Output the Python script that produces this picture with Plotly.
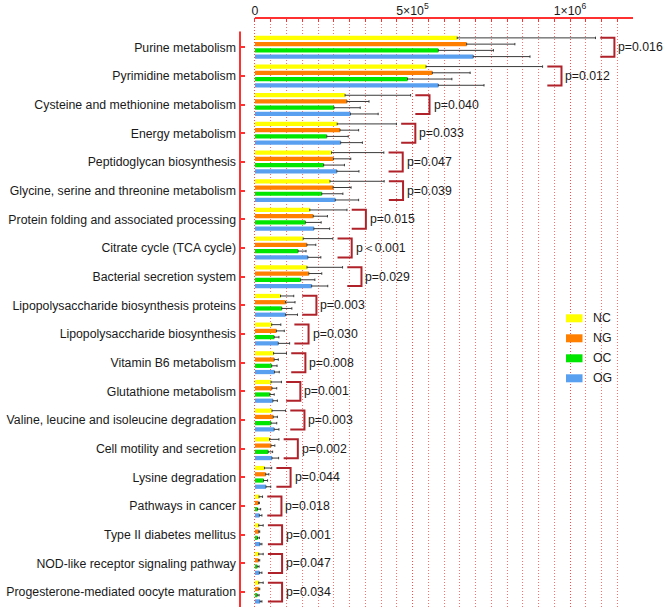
import plotly.graph_objects as go

categories = [
    "Purine metabolism",
    "Pyrimidine metabolism",
    "Cysteine and methionine metabolism",
    "Energy metabolism",
    "Peptidoglycan biosynthesis",
    "Glycine, serine and threonine metabolism",
    "Protein folding and associated processing",
    "Citrate cycle (TCA cycle)",
    "Bacterial secretion system",
    "Lipopolysaccharide biosynthesis proteins",
    "Lipopolysaccharide biosynthesis",
    "Vitamin B6 metabolism",
    "Glutathione metabolism",
    "Valine, leucine and isoleucine degradation",
    "Cell motility and secretion",
    "Lysine degradation",
    "Pathways in cancer",
    "Type II diabetes mellitus",
    "NOD-like receptor signaling pathway",
    "Progesterone-mediated oocyte maturation",
]

series_names = ["NC", "NG", "OC", "OG"]
series_colors = ["#FFFF00", "#FF8000", "#00E600", "#5AA0F0"]

NC = [642000, 543000, 286000, 261000, 243000, 238000, 174000, 153000, 165000, 81000,
      53000, 59000, 51000, 54000, 46000, 30000, 13000, 12000, 12000, 12000]
NC_err = [439000, 370000, 208000, 188000, 166000, 172000, 118000, 94000, 113000, 42000,
          29000, 41000, 33000, 43000, 30000, 23000, 11000, 14000, 14000, 14000]
NG = [672000, 563000, 292000, 270000, 249000, 248000, 185000, 165000, 171000, 97000,
      68000, 61000, 54000, 58000, 51000, 34000, 11000, 12000, 11000, 12000]
NG_err = [153000, 120000, 70000, 59000, 55000, 57000, 45000, 28000, 41000, 30000,
          25000, 13000, 15000, 13000, 12000, 10000, 3000, 3000, 4000, 3000]
OC = [582000, 484000, 251000, 228000, 218000, 212000, 160000, 137000, 145000, 85000,
      61000, 53000, 47000, 51000, 42000, 27000, 8000, 8000, 7000, 7000]
OC_err = [175000, 141000, 83000, 68000, 66000, 67000, 50000, 25000, 45000, 32000,
          15000, 17000, 14000, 18000, 14000, 13000, 10000, 6000, 6000, 6000]
OG = [693000, 582000, 303000, 272000, 260000, 255000, 187000, 168000, 180000, 97000,
      74000, 62000, 57000, 61000, 54000, 35000, 14000, 16000, 14000, 16000]
OG_err = [180000, 145000, 88000, 69000, 70000, 74000, 50000, 41000, 51000, 38000,
          36000, 15000, 14000, 15000, 21000, 15000, 8000, 6000, 8000, 6000]

p_values = ["p=0.016", "p=0.012", "p=0.040", "p=0.033", "p=0.047", "p=0.039",
            "p=0.015", "p\uff1c0.001", "p=0.029", "p=0.003", "p=0.030", "p=0.008",
            "p=0.001", "p=0.003", "p=0.002", "p=0.044", "p=0.018", "p=0.001",
            "p=0.047", "p=0.034"]

x_tick_vals = [0, 500000, 1000000]
x_tick_text = ["0", "5\u00d710<sup>5</sup>", "1\u00d710<sup>6</sup>"]
x_minor_step = 50000

values = [NC, NG, OC, OG]
errors = [NC_err, NG_err, OC_err, OG_err]

FONT = "Liberation Sans, Arial, sans-serif"
FS = 12.3
RED = "#FF3030"
GRID = "rgba(255,60,60,0.75)"
BRACKET = "#B0222A"

W, H = 667, 611
L, R, T, B = 240, 34, 18, 4
XMIN, XMAX = -47600, 1200000
YTOP, YBOT = -1.02, 19.52

fig = go.Figure()
for name, col, v, e in zip(series_names, series_colors, values, errors):
    fig.add_trace(go.Bar(
        name=name, y=categories, x=v, orientation="h",
        marker=dict(color=col, line=dict(width=0)),
        error_x=dict(type="data", symmetric=False, array=e, arrayminus=[0] * len(e),
                     color="#3a3a3a", thickness=1, width=1.2),
        showlegend=False,
    ))

shapes = []
annotations = []

# axis lines
shapes.append(dict(type="line", xref="x", yref="paper", x0=0, x1=XMAX, y0=1, y1=1,
                   line=dict(color=RED, width=2)))
shapes.append(dict(type="line", xref="paper", yref="y", x0=0, x1=0, y0=-0.55, y1=YBOT,
                   line=dict(color=RED, width=2)))

# significance brackets
for i, cat in enumerate(categories):
    top = max(values[k][i] + errors[k][i] for k in range(4))
    x0 = top + 15000
    x1 = x0 + 45000
    y0 = i - 0.33
    y1 = i + 0.33
    shapes.append(dict(type="path", xref="x", yref="y",
                       path=f"M{x0},{y0} L{x1},{y0} L{x1},{y1} L{x0},{y1}",
                       line=dict(color=BRACKET, width=2)))
    annotations.append(dict(x=x1, y=i, xref="x", yref="y", text=p_values[i],
                            showarrow=False, xanchor="left", yanchor="middle",
                            xshift=2, font=dict(family=FONT, size=FS, color="#1a1a1a")))

# manual legend (positions given in page pixels)
pw, ph = W - L - R, H - T - B
def px(xp):
    return (xp - L) / pw
def py(yp):
    return 1 - (yp - T) / ph

for k, (name, col) in enumerate(zip(series_names, series_colors)):
    cy = 318.3 + 20 * k
    shapes.append(dict(type="rect", xref="paper", yref="paper",
                       x0=px(566), x1=px(582.5), y0=py(cy + 4), y1=py(cy - 4),
                       fillcolor=col, line=dict(width=0)))
    annotations.append(dict(x=px(591), y=py(cy), xref="paper", yref="paper",
                            text=name, showarrow=False, xanchor="left", yanchor="middle",
                            font=dict(family=FONT, size=FS, color="#1a1a1a")))

fig.update_layout(
    width=W, height=H,
    margin=dict(l=L, r=R, t=T, b=B, pad=0, autoexpand=False),
    paper_bgcolor="white", plot_bgcolor="white",
    barmode="group", bargap=0.13, bargroupgap=0.32,
    font=dict(family=FONT, size=FS, color="#1a1a1a"),
    shapes=shapes, annotations=annotations,
    showlegend=False,
    xaxis=dict(
        side="top", range=[XMIN, XMAX], showline=False, zeroline=False,
        automargin=False,
        tickmode="array", tickvals=x_tick_vals, ticktext=x_tick_text,
        ticks="inside", ticklen=4, tickwidth=1, tickcolor=RED,
        showgrid=True, gridcolor=GRID, griddash="1px,2px", gridwidth=1,
        minor=dict(tickmode="linear", tick0=0, dtick=x_minor_step,
                   ticks="inside", ticklen=4, tickwidth=1, tickcolor=RED,
                   showgrid=True, gridcolor=GRID, griddash="1px,2px", gridwidth=1),
        tickfont=dict(family=FONT, size=FS, color="#1a1a1a"),
    ),
    yaxis=dict(
        type="category", categoryorder="array", categoryarray=categories,
        automargin=False,
        range=[YBOT, YTOP], showline=False, zeroline=False, showgrid=False,
        ticks="inside", ticklen=5, tickwidth=2, tickcolor=RED,
        tickfont=dict(family=FONT, size=FS, color="#1a1a1a"),
        ticklabelstandoff=3,
    ),
)

fig.write_html(
    "out.html",
    config={"displayModeBar": False},
    post_script="document.body.style.margin='0';document.body.style.overflow='hidden';",
)
